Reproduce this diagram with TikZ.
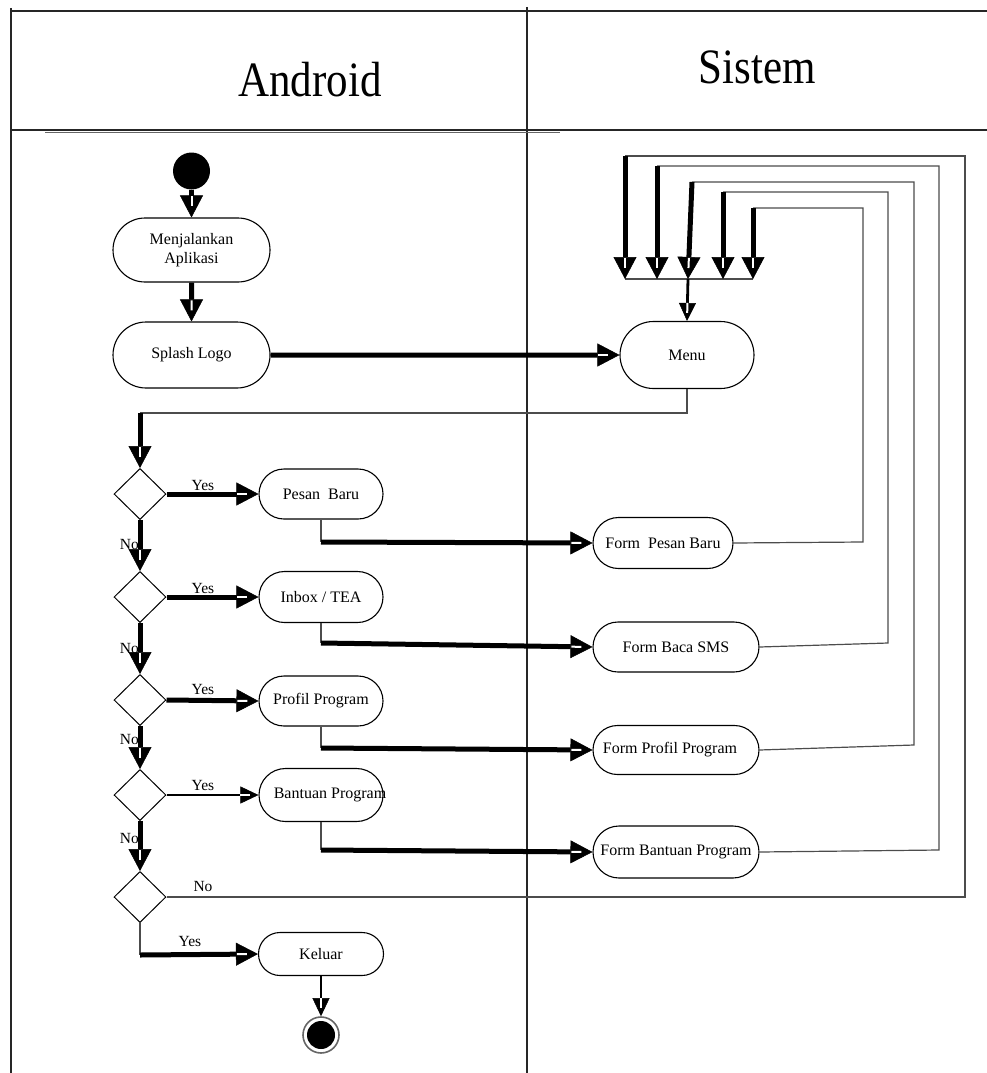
\documentclass[tikz,border=0pt]{standalone}
\usepackage{fontspec}
\setmainfont{Liberation Serif}
\usetikzlibrary{arrows.meta,shapes.geometric,shapes.misc,decorations.markings}

\tikzset{
  frameline/.style={draw=black!85, line width=1.1pt},
  lanetitle/.style={font=\fontsize{43}{46}\selectfont, inner sep=0pt},
  act/.style={rounded rectangle, draw=black, line width=1.1pt, fill=white,
    inner sep=0pt, font=\fontsize{16}{19}\selectfont, align=center},
  decis/.style={diamond, draw=black, line width=1pt, fill=white, inner sep=0pt,
    minimum width=52pt, minimum height=51pt},
  lbl/.style={font=\fontsize{15.5}{17}\selectfont, inner sep=0pt},
  thinline/.style={draw=black!70, line width=1.2pt},
  slit/.style={postaction={decorate, decoration={markings,
    mark=at position -#1 with {\draw[-, white, line width=2pt] (-5pt,0) -- (5pt,0);}}}},
  flow/.style={line width=5pt,
    -{Triangle[length=22pt, width=23pt, line width=0.5pt]}, slit=16pt},
  flowthin/.style={line width=2.8pt,
    -{Triangle[length=18pt, width=17pt, line width=0.5pt]}, slit=13pt},
}

\begin{document}
\begin{tikzpicture}[x=1pt, y=-1pt]
\useasboundingbox (0,0) rectangle (987,1073);

% swimlane frame
\draw[frameline] (11,8) -- (11,1073);
\draw[frameline] (11,11) -- (987,11);
\draw[frameline] (527,7) -- (527,1073);
\draw[frameline] (11,130) -- (987,130);
\draw[draw=black!60, line width=1.6pt] (45,132.5) -- (560,132.5);

% lane titles
\node[lanetitle, anchor=base] (tAndroid) at (310,96) {\scalebox{1}[1.15]{Android}};
\node[lanetitle, anchor=base] (tSistem) at (757,84) {\scalebox{1}[1.15]{Sistem}};

% start / end
\node[circle, fill=black, inner sep=0pt, minimum size=37pt] (start) at (191.5,171) {};
\node[circle, draw=black!60, line width=1.6pt, fill=white, inner sep=0pt,
  minimum size=36pt] (stop) at (321,1035) {};
\node[circle, fill=black, inner sep=0pt, minimum size=28pt] (stopcore) at (stop.center) {};

% Android lane activities
\node[act, minimum width=157pt, minimum height=64pt] (run) at (191.5,250) {Menjalankan\\Aplikasi};
\node[act, minimum width=157pt, minimum height=66pt] (splash) at (191.5,355) {Splash Logo};
\node[act, minimum width=124pt, minimum height=50pt] (pesan) at (321,494) {Pesan~~Baru};
\node[act, minimum width=124pt, minimum height=51pt] (inbox) at (321,597) {Inbox / TEA};
\node[act, minimum width=124pt, minimum height=50pt] (profil) at (321,701) {Profil Program};
\node[act, minimum width=124pt, minimum height=53pt] (bantuan) at (321,795)
  {\hspace*{9pt}Bantuan Program\hspace*{-9pt}};
\node[act, minimum width=125pt, minimum height=43pt] (keluar) at (321,954) {Keluar};

% decisions
\node[decis] (d1) at (140,494) {};
\node[decis] (d2) at (140,597) {};
\node[decis] (d3) at (140,700) {};
\node[decis] (d4) at (140,795) {};
\node[decis] (d5) at (140,897) {};

% Sistem lane activities
\node[act, minimum width=134pt, minimum height=67pt] (menu) at (687,355) {Menu};
\node[act, minimum width=140pt, minimum height=51pt] (fpesan) at (663,543) {Form~~Pesan Baru};
\node[act, minimum width=166pt, minimum height=50pt] (fbaca) at (676,647) {Form Baca SMS};
\node[act, minimum width=166pt, minimum height=49pt] (fprofil) at (676,750) {\hspace*{-6pt}Form Profil Program\hspace*{6pt}};
\node[act, minimum width=166pt, minimum height=52pt] (fbantuan) at (676,852) {Form Bantuan Program};

% main sequence
\draw[flow] (start) -- (run);
\draw[flow] (run) -- (splash);
\draw[flow] (splash) -- (menu);

% merge bar above Menu
\coordinate (mergeL) at (625,279);
\coordinate (mergeR) at (753,279);
\coordinate (mergeC) at (688,279);
\draw[thinline] (mergeL) -- (mergeR);
\draw[flowthin] (mergeC) -- (menu.north);

% Menu to first decision
\coordinate (mn1) at (687,413);
\coordinate (mn2) at (140,413);
\draw[thinline] (menu.south) -- (mn1) -- (mn2);
\draw[flow] (mn2) -- (d1.north);

% decision chain
\draw[flow] (d1.south) -- (d2.north);
\draw[flow] (d2.south) -- (d3.north);
\draw[flow] (d3.south) -- (d4.north);
\draw[flow] (d4.south) -- (d5.north);
\node[lbl, anchor=east] (no1) at (139,544) {No};
\node[lbl, anchor=east] (no2) at (139,648) {No};
\node[lbl, anchor=east] (no3) at (139,739) {No};
\node[lbl, anchor=east] (no4) at (139,838) {No};

\draw[flow] (d1.east) -- (pesan.west);
\draw[flow] (d2.east) -- (inbox.west);
\draw[flow] (d3.east) -- (profil.west);
\draw[flowthin] (d4.east) -- (bantuan.west);
\node[lbl] (yes1) at (203,485) {Yes};
\node[lbl] (yes2) at (203,588) {Yes};
\node[lbl] (yes3) at (203,689) {Yes};
\node[lbl] (yes4) at (203,785) {Yes};

% Android activities to Sistem forms
\coordinate (pb) at (321,542);
\coordinate (ib) at (321,643);
\coordinate (prb) at (321,748);
\coordinate (bb) at (321,850);
\draw[thinline] (pesan.south) -- (pb);
\draw[flow] (pb) -- (fpesan.west);
\draw[thinline] (inbox.south) -- (ib);
\draw[flow] (ib) -- (fbaca.west);
\draw[thinline] (profil.south) -- (prb);
\draw[flow] (prb) -- (fprofil.west);
\draw[thinline] (bantuan.south) -- (bb);
\draw[flow] (bb) -- (fbantuan.west);

% return paths from the forms back to Menu
\coordinate (r5a) at (863,542);  \coordinate (r5b) at (863,208);  \coordinate (in5) at (753,208);
\coordinate (r4a) at (888,643);  \coordinate (r4b) at (888,192);  \coordinate (in4) at (723,192);
\coordinate (r3a) at (914,745);  \coordinate (r3b) at (914,182);  \coordinate (in3) at (692,182);
\coordinate (r2a) at (939,850);  \coordinate (r2b) at (939,166);  \coordinate (in2) at (657,166);
\coordinate (r1a) at (965,897);  \coordinate (r1b) at (965,156);  \coordinate (in1) at (625,156);

\draw[thinline] (fpesan.east) -- (r5a) -- (r5b) -- (in5);
\draw[thinline] (fbaca.east) -- (r4a) -- (r4b) -- (in4);
\draw[thinline] (fprofil.east) -- (r3a) -- (r3b) -- (in3);
\draw[thinline] (fbantuan.east) -- (r2a) -- (r2b) -- (in2);
\draw[thinline] (d5.east) -- (r1a) -- (r1b) -- (in1);
\node[lbl] (no5) at (203,886) {No};

\draw[flow] (in1) -- (in1 |- mergeL);
\draw[flow] (in2) -- (in2 |- mergeL);
\draw[flow] (in3) -- (mergeC);
\draw[flow] (in4) -- (in4 |- mergeL);
\draw[flow] (in5) -- (mergeR);

% exit
\coordinate (ex) at (140,955);
\draw[thinline] (d5.south) -- (ex);
\draw[flow] (ex) -- (keluar.west);
\node[lbl] (yes5) at (190,941) {Yes};
\draw[flowthin] (keluar.south) -- (stop.north);

\end{tikzpicture}
\end{document}
